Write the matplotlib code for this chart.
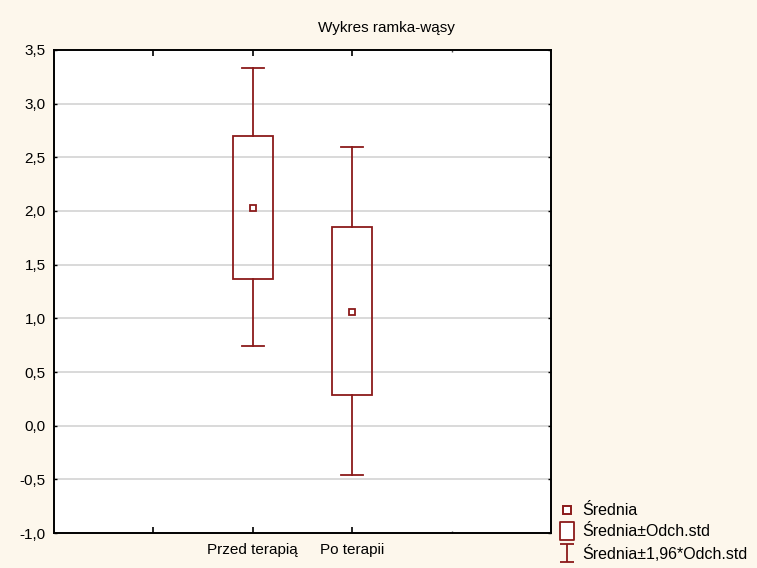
import matplotlib
matplotlib.use('Agg')
import matplotlib.pyplot as plt
from matplotlib.lines import Line2D
from matplotlib.path import Path

plt.rcParams['font.family'] = ['Liberation Sans', 'DejaVu Sans']

# values
groups = ['Przed terapią', 'Po terapii']
positions = [2, 3]
means = [2.03, 1.06]
box_low = [1.37, 0.29]
box_high = [2.70, 1.85]
whisker_low = [0.74, -0.46]
whisker_high = [3.33, 2.60]

y_ticks = [-1.0, -0.5, 0.0, 0.5, 1.0, 1.5, 2.0, 2.5, 3.0, 3.5]

red = '#8b1a1a'
bg = '#fdf7ec'

fig = plt.figure(figsize=(7.57, 5.68), dpi=100, facecolor=bg)
ax = fig.add_axes([0.0713, 0.0616, 0.6566, 0.8504])
ax.set_facecolor('white')

# boxes (mean +/- sd) and whiskers (mean +/- 1.96 sd)
box_w = 0.4
cap_w = 0.22
for x, m, bl, bh, wl, wh in zip(positions, means, box_low, box_high,
                                whisker_low, whisker_high):
    ax.add_patch(plt.Rectangle((x - box_w / 2, bl), box_w, bh - bl,
                               fill=False, edgecolor=red, lw=1.3, zorder=3))
    ax.plot([x, x], [bh, wh], color=red, lw=1.3, zorder=3)
    ax.plot([x, x], [wl, bl], color=red, lw=1.3, zorder=3)
    ax.plot([x - cap_w / 2, x + cap_w / 2], [wh, wh], color=red, lw=1.3, zorder=3)
    ax.plot([x - cap_w / 2, x + cap_w / 2], [wl, wl], color=red, lw=1.3, zorder=3)
    ax.plot([x], [m], marker='s', ms=5, mfc='white', mec=red, mew=1.3, zorder=4)

ax.set_xlim(0, 5)
ax.set_ylim(-1.0, 3.5)
ax.set_yticks(y_ticks)
ax.set_yticklabels([f'{v:.1f}'.replace('.', ',') for v in y_ticks], fontsize=11)
ax.set_xticks([1, 2, 3])
ax.set_xticklabels(['', groups[0], groups[1]], fontsize=11)
ax.set_xticks([4], minor=True)
ax.tick_params(axis='x', which='major', direction='in', length=4, width=1.2,
               top=True, pad=7)
ax.tick_params(axis='x', which='minor', direction='in', length=1.5, width=1,
               top=True, color='#555555')
ax.tick_params(axis='y', direction='in', length=2, width=1, right=True, pad=6)

for y in y_ticks[1:-1]:
    ax.axhline(y, color='#d9d9d9', lw=1.4, zorder=1)

for s in ax.spines.values():
    s.set_linewidth(1.4)
    s.set_color('black')

fig.text(0.511, 0.951, 'Wykres ramka-wąsy', ha='center', va='center', fontsize=11)

# legend
ibar = Path([(-0.75, -1), (0.75, -1), (0, -1), (0, 1), (-0.75, 1), (0.75, 1)],
            [Path.MOVETO, Path.LINETO, Path.MOVETO, Path.LINETO,
             Path.MOVETO, Path.LINETO])
rect = Path([(-0.39, -0.5), (0.39, -0.5), (0.39, 0.5), (-0.39, 0.5), (-0.39, -0.5)],
            [Path.MOVETO, Path.LINETO, Path.LINETO, Path.LINETO, Path.CLOSEPOLY])
handles = [
    Line2D([], [], ls='none', marker='s', ms=5.5, mfc='white', mec=red, mew=1.4),
    Line2D([], [], ls='none', marker=rect, ms=13, mfc='white', mec=red, mew=1.3),
    Line2D([], [], ls='none', marker=ibar, ms=13, mec=red, mew=1.3),
]
labels = ['Średnia', 'Średnia±Odch.std', 'Średnia±1,96*Odch.std']
fig.legend(handles, labels, loc='lower left', bbox_to_anchor=(0.722, -0.009),
           frameon=False, fontsize=11.5, handlelength=1.2, handletextpad=0.35,
           labelspacing=0.36, borderpad=0.2)

fig.savefig('out.png', dpi=100, facecolor=bg)
